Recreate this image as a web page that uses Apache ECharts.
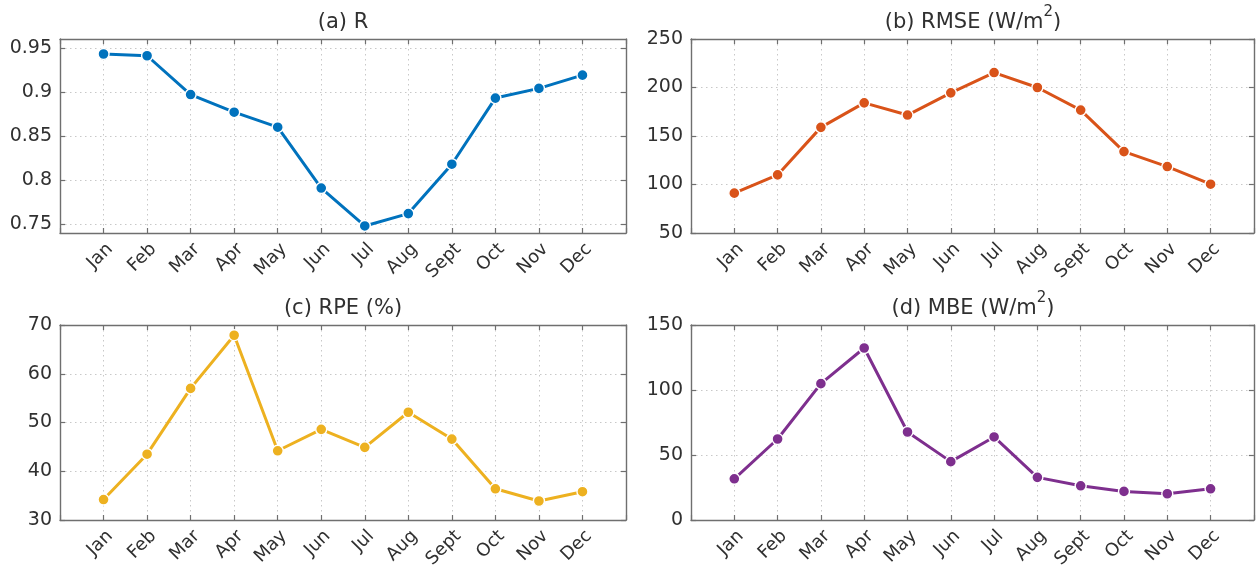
<!DOCTYPE html>
<html>
<head>
<meta charset="utf-8">
<script src="https://cdn.jsdelivr.net/npm/echarts@6/dist/echarts.min.js"></script>
<style>
html,body{margin:0;padding:0;background:#fff;}
#chart{width:1256px;height:572px;}
</style>
</head>
<body>
<div id="chart"></div>
<script>
const months = ['Jan','Feb','Mar','Apr','May','Jun','Jul','Aug','Sept','Oct','Nov','Dec'];
const rValues    = [0.943, 0.941, 0.897, 0.877, 0.860, 0.791, 0.748, 0.762, 0.818, 0.893, 0.904, 0.919];
const rmseValues = [91.1, 109.9, 158.9, 184.2, 171.6, 194.5, 215.4, 200.0, 176.7, 133.9, 118.5, 100.3];
const rpeValues  = [34.2, 43.5, 57.0, 67.9, 44.2, 48.6, 44.9, 52.1, 46.6, 36.4, 33.9, 35.8];
const mbeValues  = [31.7, 62.3, 104.9, 132.3, 67.7, 44.9, 63.9, 32.8, 26.3, 22.0, 20.2, 24.0];

const rTicks    = [0.75, 0.8, 0.85, 0.9, 0.95];
const rmseTicks = [50, 100, 150, 200, 250];
const rpeTicks  = [30, 40, 50, 60, 70];
const mbeTicks  = [0, 50, 100, 150];

const panels = [
  {title: [['n','(a) R']], values: rValues, ticks: rTicks, min: 0.74, max: 0.96, color: '#0072BD',
   grid: {left: 60, top: 39, width: 566, height: 194}},
  {title: [['n','(b) RMSE (W/m'],['s','2'],['n',')']], values: rmseValues, ticks: rmseTicks, min: 50, max: 250, color: '#D95319',
   grid: {left: 691, top: 39, width: 564, height: 194}},
  {title: [['n','(c) RPE (%)']], values: rpeValues, ticks: rpeTicks, min: 30, max: 70, color: '#EDB120',
   grid: {left: 60, top: 325, width: 566, height: 195}},
  {title: [['n','(d) MBE (W/m'],['s','2'],['n',')']], values: mbeValues, ticks: mbeTicks, min: 0, max: 150, color: '#7E2F8E',
   grid: {left: 691, top: 325, width: 564, height: 195}}
];

const FONT = 'DejaVu Sans';
const TXT = '#303030';
const AX = '#6f6f6f';
const GRIDC = '#c8c8c8';

const grids = [], xAxes = [], yAxes = [], series = [], graphics = [];
panels.forEach((p, i) => {
  grids.push({left: p.grid.left, top: p.grid.top, width: p.grid.width, height: p.grid.height, containLabel: false});
  const xBase = {
    type: 'value', gridIndex: i, min: 0, max: 13, interval: 1,
    axisLine: {show: true, onZero: false, lineStyle: {color: AX, width: 1.4}},
    axisTick: {show: true, inside: true, length: 5, lineStyle: {color: AX, width: 1.2}}
  };
  xAxes.push(Object.assign({}, xBase, {
    position: 'bottom',
    axisLabel: {show: true, rotate: 45, margin: 7, verticalAlign: 'top', fontFamily: FONT, fontSize: 18, color: TXT,
      formatter: v => (v >= 1 && v <= 12) ? months[v - 1] : ''},
    splitLine: {show: true, lineStyle: {color: GRIDC, type: [1.5, 3.5], width: 1}}
  }));
  xAxes.push(Object.assign({}, xBase, {
    position: 'top', axisLabel: {show: false}, splitLine: {show: false}
  }));
  const yBase = {
    type: 'value', gridIndex: i, min: p.min, max: p.max,
    axisLine: {show: true, onZero: false, lineStyle: {color: AX, width: 1.4}},
    axisTick: {show: true, inside: true, length: 5, customValues: p.ticks, lineStyle: {color: AX, width: 1.2}}
  };
  yAxes.push(Object.assign({}, yBase, {
    position: 'left',
    axisLabel: {show: true, customValues: p.ticks, margin: 8, fontFamily: FONT, fontSize: 19, color: TXT,
      formatter: v => String(+v.toFixed(2))},
    splitLine: {show: true, lineStyle: {color: GRIDC, type: [1.5, 3.5], width: 1}}
  }));
  yAxes.push(Object.assign({}, yBase, {
    position: 'right', axisLabel: {show: false}, splitLine: {show: false}
  }));
  series.push({
    type: 'line', xAxisIndex: 2 * i, yAxisIndex: 2 * i,
    data: p.values.map((v, k) => [k + 1, v]),
    symbol: 'circle', symbolSize: 11, showSymbol: true,
    lineStyle: {color: p.color, width: 3},
    itemStyle: {color: p.color, borderColor: '#ffffff', borderWidth: 1.4},
    emphasis: {disabled: true},
    z: 3
  });
  const text = p.title.map(([k, t]) => '{' + k + '|' + t + '}').join('');
  graphics.push({
    type: 'text',
    x: p.grid.left + p.grid.width / 2,
    y: p.grid.top - 6,
    style: {
      text: text,
      align: 'center', verticalAlign: 'bottom',
      fill: TXT,
      rich: {
        n: {fontFamily: FONT, fontSize: 21, color: TXT, verticalAlign: 'bottom', lineHeight: 28},
        s: {fontFamily: FONT, fontSize: 15, color: TXT, verticalAlign: 'top', padding: [0, 0, 13, 0], lineHeight: 28}
      }
    }
  });
});

const chart = echarts.init(document.getElementById('chart'), null, {renderer: 'canvas'});
chart.setOption({
  animation: false,
  backgroundColor: '#ffffff',
  grid: grids,
  xAxis: xAxes,
  yAxis: yAxes,
  series: series,
  graphic: graphics
});
</script>
</body>
</html>
